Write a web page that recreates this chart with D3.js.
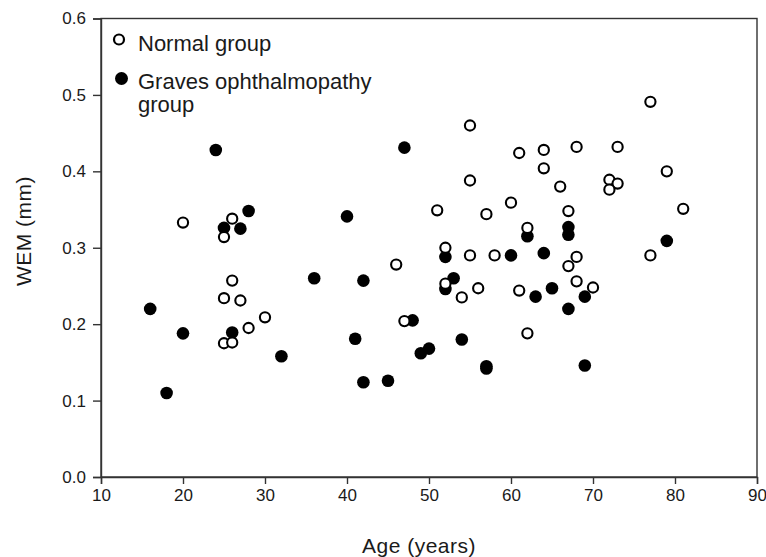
<!DOCTYPE html>
<html>
<head>
<meta charset="utf-8">
<script src="https://cdn.jsdelivr.net/npm/d3@7"></script>
<style>
  body { margin: 0; background: #fff; }
  svg { display: block; }
  text { font-family: "Liberation Sans", Arial, sans-serif; fill: #1a1a1a; }
</style>
</head>
<body>
<svg id="chart" width="766" height="557"></svg>
<script>
// Normal group (open circles)
var normalAge = [20, 26, 25, 26, 25, 27, 30, 28, 25, 26,
                 55, 61, 64, 64, 55, 60, 51, 57, 62, 52, 55, 58, 46, 52, 56, 54, 61, 47, 62,
                 77, 68, 73, 66, 72, 73, 72, 79, 81, 67, 68, 67, 77, 68, 70];
var normalWem = [0.333, 0.338, 0.314, 0.257, 0.234, 0.231, 0.209, 0.195, 0.175, 0.176,
                 0.460, 0.424, 0.428, 0.404, 0.388, 0.359, 0.349, 0.344, 0.326, 0.300, 0.290, 0.290, 0.278, 0.253, 0.247, 0.235, 0.244, 0.204, 0.188,
                 0.491, 0.432, 0.432, 0.380, 0.389, 0.384, 0.376, 0.400, 0.351, 0.348, 0.288, 0.276, 0.290, 0.256, 0.248];

// Graves ophthalmopathy group (filled circles)
var gravesAge = [24, 28, 25, 27, 36, 16, 20, 26, 32, 18,
                 47, 40, 62, 52, 60, 64, 42, 53, 52, 63, 65, 48, 41, 54, 49, 50, 42, 45, 57, 57,
                 67, 67, 79, 69, 67, 69];
var gravesWem = [0.428, 0.348, 0.326, 0.325, 0.260, 0.220, 0.188, 0.189, 0.158, 0.110,
                 0.431, 0.341, 0.315, 0.288, 0.290, 0.293, 0.257, 0.260, 0.246, 0.236, 0.247, 0.205, 0.181, 0.180, 0.162, 0.168, 0.124, 0.126, 0.145, 0.142,
                 0.327, 0.317, 0.309, 0.236, 0.220, 0.146];

var xTicks = [10, 20, 30, 40, 50, 60, 70, 80, 90];
var yTicks = [0.0, 0.1, 0.2, 0.3, 0.4, 0.5, 0.6];

var svg = d3.select('#chart');

var x = d3.scaleLinear().domain([10, 90]).range([101, 757]);
var y = d3.scaleLinear().domain([0, 0.6]).range([477, 18.5]);

// frame
svg.append('rect')
    .attr('x', x(10)).attr('y', y(0.6))
    .attr('width', x(90) - x(10)).attr('height', y(0) - y(0.6))
    .attr('fill', 'none').attr('stroke', '#333').attr('stroke-width', 1.4);

var xAxis = svg.append('g')
    .attr('transform', 'translate(0,' + y(0) + ')')
    .call(d3.axisBottom(x).tickValues(xTicks).tickSize(7).tickPadding(5).tickFormat(d3.format('d')));

var yAxis = svg.append('g')
    .attr('transform', 'translate(' + x(10) + ',0)')
    .call(d3.axisLeft(y).tickValues(yTicks).tickSize(8).tickPadding(7).tickFormat(d3.format('.1f')));

[xAxis, yAxis].forEach(function(g) {
    g.attr('font-size', 17).attr('font-family', '"Liberation Sans", Arial, sans-serif');
    g.select('.domain').attr('stroke', '#333').attr('stroke-width', 1.4);
    g.selectAll('.tick line').attr('stroke', '#333').attr('stroke-width', 1.4);
    g.selectAll('.tick text').attr('fill', '#1a1a1a');
});

// axis titles
svg.append('text')
    .attr('x', 419).attr('y', 553)
    .attr('text-anchor', 'middle')
    .attr('font-size', 21).attr('letter-spacing', 0.5)
    .text('Age (years)');

svg.append('text')
    .attr('transform', 'translate(31,231) rotate(-90)')
    .attr('text-anchor', 'middle')
    .attr('font-size', 21).attr('letter-spacing', 0.5)
    .text('WEM (mm)');

// points: filled first, open on top
var graves = gravesAge.map(function(a, i) { return {age: a, wem: gravesWem[i]}; });
var normal = normalAge.map(function(a, i) { return {age: a, wem: normalWem[i]}; });

svg.append('g').selectAll('circle')
    .data(graves)
    .enter().append('circle')
    .attr('cx', function(d) { return x(d.age); })
    .attr('cy', function(d) { return y(d.wem); })
    .attr('r', 6.3)
    .attr('fill', '#000');

svg.append('g').selectAll('circle')
    .data(normal)
    .enter().append('circle')
    .attr('cx', function(d) { return x(d.age); })
    .attr('cy', function(d) { return y(d.wem); })
    .attr('r', 5.1)
    .attr('fill', '#fff')
    .attr('stroke', '#000')
    .attr('stroke-width', 2.1);

// legend
var legend = svg.append('g');
legend.append('circle')
    .attr('cx', 119).attr('cy', 39.5).attr('r', 5)
    .attr('fill', '#fff').attr('stroke', '#000').attr('stroke-width', 2.2);
legend.append('text')
    .attr('x', 138).attr('y', 51).attr('font-size', 22)
    .text('Normal group');
legend.append('circle')
    .attr('cx', 121.5).attr('cy', 78.5).attr('r', 6.5)
    .attr('fill', '#000');
legend.append('text')
    .attr('x', 138).attr('y', 89).attr('font-size', 22)
    .text('Graves ophthalmopathy');
legend.append('text')
    .attr('x', 138).attr('y', 112).attr('font-size', 22)
    .text('group');
</script>
</body>
</html>
